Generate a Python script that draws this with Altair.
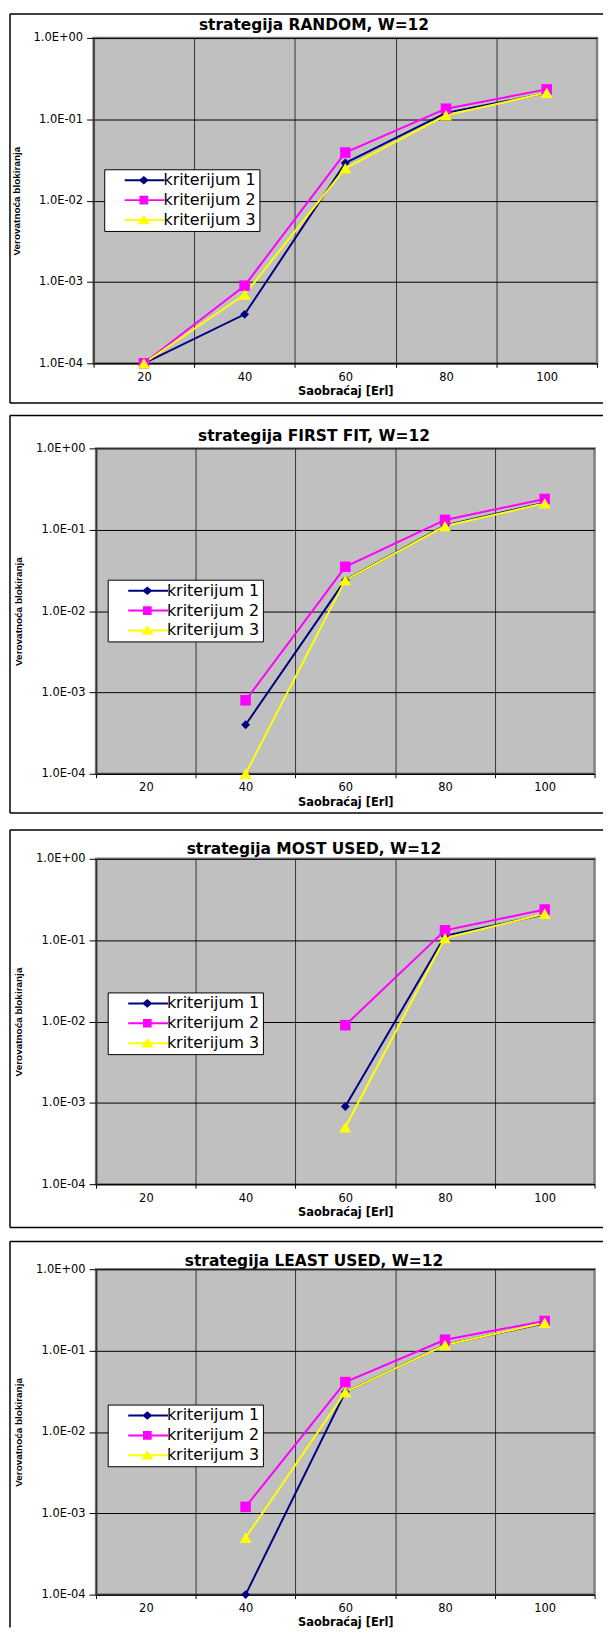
import altair as alt
import pandas as pd

# ---------------- data ----------------
x_values = [20, 40, 60, 80, 100]
series_names = ["kriterijum 1", "kriterijum 2", "kriterijum 3"]
series_colors = ["#000080", "#FF00FF", "#FFFF00"]
marker_shapes = ["diamond", "square", "triangle-up"]
marker_sizes = [80, 144, 169]

panel_titles = [
    "strategija RANDOM, W=12",
    "strategija FIRST FIT, W=12",
    "strategija MOST USED, W=12",
    "strategija LEAST USED, W=12",
]

random_k1 = [1.0e-4, 4.0e-4, 2.9e-2, 1.20e-1, 2.10e-1]
random_k2 = [1.0e-4, 9.0e-4, 3.9e-2, 1.35e-1, 2.33e-1]
random_k3 = [1.0e-4, 7.0e-4, 2.5e-2, 1.12e-1, 2.12e-1]

firstfit_k1 = [None, 4.0e-4, 2.4e-2, 1.13e-1, 2.15e-1]
firstfit_k2 = [None, 8.0e-4, 3.5e-2, 1.32e-1, 2.39e-1]
firstfit_k3 = [None, 1.0e-4, 2.4e-2, 1.11e-1, 2.11e-1]

mostused_k1 = [None, None, 9.0e-4, 1.13e-1, 2.07e-1]
mostused_k2 = [None, None, 9.0e-3, 1.32e-1, 2.38e-1]
mostused_k3 = [None, None, 5.0e-4, 1.06e-1, 2.11e-1]

leastused_k1 = [None, 1.0e-4, 3.1e-2, 1.18e-1, 2.16e-1]
leastused_k2 = [None, 1.2e-3, 4.1e-2, 1.36e-1, 2.31e-1]
leastused_k3 = [None, 5.0e-4, 3.1e-2, 1.17e-1, 2.20e-1]

y_tick_values = [1e-4, 1e-3, 1e-2, 1e-1, 1.0]
x_tick_values = [10, 20, 30, 40, 50, 60, 70, 80, 90, 100, 110]

panel_series = [
    (random_k1, random_k2, random_k3),
    (firstfit_k1, firstfit_k2, firstfit_k3),
    (mostused_k1, mostused_k2, mostused_k3),
    (leastused_k1, leastused_k2, leastused_k3),
]

# legend symbols: a line with the marker on it
legend_paths = [
    "M-2.23,0H4.43M0.37,0L0.97,-0.5L1.57,0L0.97,0.5Z",
    "M-2.23,0H4.43M0.41,-0.56H1.53V0.56H0.41Z",
    "M-2.23,0H4.43M0.97,-0.58L1.69,0.54H0.25Z",
]

# ---------------- layout (pixels) ----------------
H = 327
layouts = [
    dict(w=506, fl=-84, fr=512, ft=-24, fb=H + 40, tc=-13, lx=10.7, ly=132),
    dict(w=501, fl=-86.5, fr=509.5, ft=-33, fb=H + 39.5, tc=-12.5, lx=11.7, ly=132),
    dict(w=501, fl=-86.5, fr=509.5, ft=-29, fb=H + 43.5, tc=-10, lx=11.7, ly=134.3),
    dict(w=501, fl=-86.5, fr=509.5, ft=-28, fb=None, tc=-8.5, lx=11.7, ly=136),
]


def long_table(k1, k2, k3):
    rows = []
    for si, (name, vals) in enumerate(zip(series_names, [k1, k2, k3])):
        for x, v in zip(x_values, vals):
            if v is not None:
                rows.append({"x": x, "y": v, "series": name, "order": si})
    return pd.DataFrame(rows)


y_label_expr = (
    "datum.value >= 1 ? '1.0E+00' : '1.0E-0' + round(-log(datum.value) / LN10)"
)


def make_panel(title, series, lay):
    df = long_table(*series)
    base = alt.Chart(df)

    x_enc = alt.X(
        "x:Q",
        scale=alt.Scale(domain=[10, 110], nice=False, zero=False),
        axis=alt.Axis(
            values=x_tick_values,
            title="Saobraćaj [Erl]",
            labelExpr="datum.value % 20 == 0 ? datum.label : ''",
            tickOpacity={"condition": {"test": "datum.value % 20 != 0", "value": 1}, "value": 0},
            grid=True,
            gridColor="#333333",
            gridWidth=1,
            gridOpacity={
                "condition": {
                    "test": "datum.value % 20 != 0 && datum.value > 10 && datum.value < 110",
                    "value": 1,
                },
                "value": 0,
            },
            tickSize=4,
            labelPadding=4,
            labelFont="DejaVu Sans",
            labelFontSize=11.5,
            labelFlush=False,
            labelOverlap=False,
            titleFont="DejaVu Sans",
            titleFontSize=11.5,
            titleFontWeight="bold",
            titlePadding=3,
        ),
    )
    y_enc = alt.Y(
        "y:Q",
        scale=alt.Scale(type="log", domain=[1e-4, 1], nice=False),
        axis=alt.Axis(
            values=y_tick_values,
            title="Verovatnoća blokiranja",
            labelExpr=y_label_expr,
            grid=True,
            gridColor="black",
            gridWidth=1,
            tickSize=7,
            labelPadding=4,
            domainColor="#333333",
            domainWidth=1.5,
            labelFont="DejaVu Sans",
            labelFontSize=11.5,
            labelOverlap=False,
            titleFont="Liberation Sans",
            titleFontSize=10,
            titleFontWeight="bold",
            titlePadding=12,
        ),
    )
    color_enc = alt.Color(
        "series:N", scale=alt.Scale(domain=series_names, range=series_colors), legend=None
    )

    lines = base.mark_line(strokeWidth=2).encode(x=x_enc, y=y_enc, color=color_enc, detail="series:N")
    points = base.mark_point(filled=True, opacity=1).encode(
        x=x_enc,
        y=y_enc,
        color=color_enc,
        shape=alt.Shape("series:N", scale=alt.Scale(domain=series_names, range=marker_shapes), legend=None),
        size=alt.Size("series:O", scale=alt.Scale(domain=series_names, range=marker_sizes), legend=None),
    )

    legend_def = alt.Legend(
        title=None,
        orient="none",
        legendX=lay["lx"],
        legendY=lay["ly"],
        fillColor="white",
        strokeColor="black",
        padding=3,
        rowPadding=4,
        symbolSize=144,
        symbolStrokeWidth=2,
        symbolOffset=23,
        symbolOpacity=1,
        labelOffset=17.5,
        labelFont="DejaVu Sans",
        labelFontSize=16,
        labelColor="black",
        labelLimit=300,
        cornerRadius=0,
    )
    legend_layer = base.mark_point(opacity=0, filled=True).encode(
        x=x_enc,
        y=y_enc,
        fill=alt.Fill("series:N", scale=alt.Scale(domain=series_names, range=series_colors), legend=legend_def),
        stroke=alt.Stroke("series:N", scale=alt.Scale(domain=series_names, range=series_colors), legend=legend_def),
        shape=alt.Shape("series:N", scale=alt.Scale(domain=series_names, range=legend_paths), legend=legend_def),
    )

    frame_src = alt.Chart(pd.DataFrame({"k": [0]}))
    deco = [
        frame_src.mark_rule(color="black", strokeWidth=1.5).encode(
            x=alt.value(lay["fl"]), x2=alt.value(lay["fr"]), y=alt.value(lay["ft"])
        ),
        frame_src.mark_rule(color="black", strokeWidth=1.5).encode(
            x=alt.value(lay["fl"]),
            y=alt.value(lay["ft"]),
            y2=alt.value(lay["fb"] if lay["fb"] is not None else H + 33),
        ),
    ]
    if lay["fb"] is not None:
        deco.append(
            frame_src.mark_rule(color="black", strokeWidth=1.5).encode(
                x=alt.value(lay["fl"]), x2=alt.value(lay["fr"]), y=alt.value(lay["fb"])
            )
        )
    deco.append(
        frame_src.mark_text(
            text=title,
            font="DejaVu Sans",
            fontSize=15.5,
            fontWeight="bold",
            color="black",
            align="center",
            baseline="middle",
        ).encode(x=alt.value(lay["w"] / 2 - 31.5), y=alt.value(lay["tc"]))
    )

    layered = alt.layer(*deco, lines, points, legend_layer).resolve_scale(
        shape="independent", fill="independent", stroke="independent"
    ).properties(width=lay["w"], height=H)
    return layered


panels = [make_panel(t, s, l) for t, s, l in zip(panel_titles, panel_series, layouts)]

chart = (
    alt.vconcat(*panels, spacing=85.5, bounds="flush", center=True)
    .resolve_scale(shape="independent", fill="independent", stroke="independent")
    .properties(
        padding={"left": 0, "top": 0, "right": 0, "bottom": 0},
        autosize=alt.AutoSizeParams(type="pad"),
        background="white",
    )
    .configure(padding={"left": 0, "top": 0, "right": 0, "bottom": 0})
    .configure_view(fill="#C0C0C0", stroke="#808080", strokeWidth=2.5)
    .configure_axis(
        domainColor="black",
        domainWidth=1,
        tickColor="black",
        labelColor="black",
        titleColor="black",
    )
)

chart.save("out.html", embed_options={"renderer": "svg", "actions": False})
